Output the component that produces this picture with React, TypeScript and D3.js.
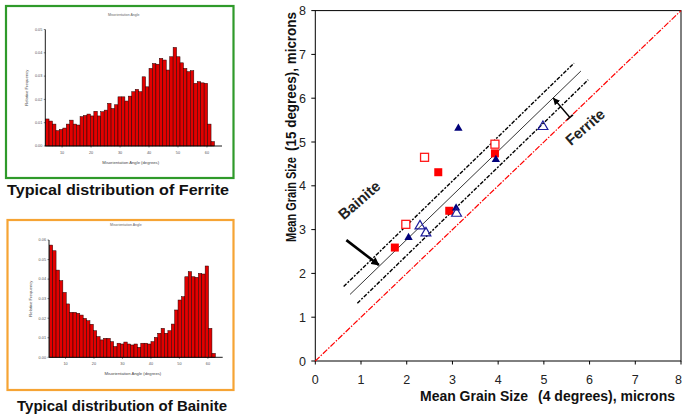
import React from "react";
import * as d3 from "d3";

// histogram bins (degrees)
const binStart = 4.3;
const binWidth = 1.19;
const histXTicks = [10, 20, 30, 40, 50, 60];

const ferriteFreq = [
  0.0116, 0.0107, 0.0094, 0.0066, 0.0071, 0.0077, 0.0094, 0.0111, 0.0094, 0.009,
  0.0126, 0.0131, 0.0137, 0.0129, 0.0149, 0.0129, 0.0147, 0.0154, 0.0183, 0.0161,
  0.0177, 0.0211, 0.0211, 0.0193, 0.0214, 0.0233, 0.0243, 0.0233, 0.0297, 0.0254,
  0.0333, 0.0354, 0.0351, 0.0376, 0.0369, 0.0326, 0.0383, 0.0423, 0.0383, 0.0357,
  0.0333, 0.0319, 0.0323, 0.0269, 0.0276, 0.0271, 0.0269, 0.0094, 0.0019,
];
const ferriteYTicks = [0, 0.01, 0.02, 0.03, 0.04, 0.05];

const bainiteFreq = [
  0.0574, 0.0545, 0.0446, 0.0392, 0.0332, 0.0273, 0.023, 0.023, 0.0225, 0.0216,
  0.0199, 0.0187, 0.0169, 0.0136, 0.0106, 0.0089, 0.0097, 0.0097, 0.008, 0.0055,
  0.0072, 0.0068, 0.0078, 0.0068, 0.0063, 0.0068, 0.0051, 0.0072, 0.0072, 0.0068,
  0.008, 0.0102, 0.0123, 0.0148, 0.0123, 0.0136, 0.017, 0.0242, 0.0293, 0.031,
  0.0412, 0.0438, 0.0412, 0.0409, 0.0429, 0.0426, 0.0467, 0.0148, 0.002,
];
const bainiteYTicks = [0, 0.01, 0.02, 0.03, 0.04, 0.05, 0.06];

// grain size scatter (4 deg, 15 deg), microns
const grainTicks = [0, 1, 2, 3, 4, 5, 6, 7, 8];
const redOpen: [number, number][] = [[1.98, 3.12], [2.39, 4.65], [3.93, 4.95]];
const redFilled: [number, number][] = [[1.74, 2.59], [2.69, 4.31], [2.93, 3.43], [3.93, 4.74]];
const blueFilled: [number, number][] = [[2.04, 2.82], [3.08, 3.49], [3.13, 5.31], [3.95, 4.6]];
const blueOpen: [number, number][] = [[2.29, 3.08], [2.42, 2.92], [3.09, 3.37], [4.98, 5.35]];
const bandUpper: [number, number][] = [[0.62, 1.7], [5.66, 6.8]];
const bandCenter: [number, number][] = [[0.76, 1.52], [5.81, 6.62]];
const bandLower: [number, number][] = [[0.92, 1.32], [5.97, 6.42]];
const identity: [number, number][] = [[0, 0], [8, 8]];

const fontFam = "'Liberation Sans', Arial, sans-serif";

function Histogram({ freq, yTicks, yMax, x0, x1, y0, y1 }) {
  const x = d3.scaleLinear().domain([4.2, 65.2]).range([x0, x1]);
  const y = d3.scaleLinear().domain([0, yMax]).range([y0, y1]);
  const fmt = d3.format(".2f");
  const cx = (x0 + x1) / 2;
  return (
    <g fontFamily={fontFam}>
      <text x={cx - 10} y={y1 - 14} fontSize={3.5} textAnchor="middle" fill="#666">
        Misorientation Angle
      </text>
      {freq.map((f, i) => {
        const a = x(binStart + i * binWidth);
        const b = x(binStart + (i + 1) * binWidth);
        return (
          <rect key={i} x={a} y={y(f)} width={b - a} height={y(0) - y(f)}
            fill="#e30000" stroke="#200000" strokeWidth={0.5} />
        );
      })}
      <line x1={x0} x2={x0} y1={y0} y2={y1} stroke="#000" strokeWidth={0.9} />
      <line x1={x0} x2={x1} y1={y0} y2={y0} stroke="#000" strokeWidth={0.9} />
      {yTicks.map((t) => (
        <g key={t}>
          <line x1={x0 - 1.5} x2={x0} y1={y(t)} y2={y(t)} stroke="#000" strokeWidth={0.5} />
          <text x={x0 - 3} y={y(t) + 1.3} fontSize={3.8} textAnchor="end" fill="#555">{fmt(t)}</text>
        </g>
      ))}
      {histXTicks.map((t) => (
        <g key={t}>
          <line x1={x(t)} x2={x(t)} y1={y0} y2={y0 + 1.5} stroke="#000" strokeWidth={0.5} />
          <text x={x(t)} y={y0 + 8} fontSize={3.8} textAnchor="middle" fill="#555">{t}</text>
        </g>
      ))}
      <text transform={`translate(${x0 - 17},${(y0 + y1) / 2}) rotate(-90)`} fontSize={4.2}
        textAnchor="middle" fill="#444">Relative Frequency</text>
      <text x={cx - 3} y={y0 + 18} fontSize={4.2} textAnchor="middle" fill="#444">
        Misorientation Angle (degrees)
      </text>
    </g>
  );
}

export default function App() {
  const x = d3.scaleLinear().domain([0, 8]).range([315.3, 681]);
  const y = d3.scaleLinear().domain([0, 8]).range([361, 10.6]);
  const line = d3.line<[number, number]>().x((d) => x(d[0])).y((d) => y(d[1]));
  const tri = d3.symbol().type(d3.symbolTriangle);

  // ferrite arrow end points
  const fa = [x(5.21), y(6.0)];
  const fb = [x(5.57), y(5.56)];
  const fdx = fb[0] - fa[0];
  const fdy = fb[1] - fa[1];
  const flen = Math.hypot(fdx, fdy);
  const px = (-fdy / flen) * 4;
  const py = (fdx / flen) * 4;

  return (
    <div style={{ position: "absolute", left: 0, top: 0 }}>
      <svg width={682} height={416} style={{ display: "block", background: "#fff" }}>
        <defs>
          <marker id="headBig" viewBox="0 0 10 10" refX="9" refY="5" markerWidth="3.2" markerHeight="3.2" orient="auto">
            <path d="M0,0 L10,5 L0,10 z" fill="#000" />
          </marker>
          <marker id="headSmall" viewBox="0 0 10 10" refX="9" refY="5" markerWidth="5" markerHeight="5" orient="auto-start-reverse">
            <path d="M0,0 L10,5 L0,10 z" fill="#000" />
          </marker>
        </defs>

        {/* left panels */}
        <rect x={6} y={6} width={227.5} height={172} fill="none" stroke="#2f9a2a" strokeWidth={2.2} />
        <Histogram freq={ferriteFreq} yTicks={ferriteYTicks} yMax={0.05} x0={45.3} x1={222} y0={146} y1={29.5} />
        <text x={118} y={195} fontFamily={fontFam} fontWeight="bold" fontSize={15} textAnchor="middle"
          textLength={222} lengthAdjust="spacingAndGlyphs" fill="#111">Typical distribution of Ferrite</text>

        <rect x={7.5} y={220} width={226} height={170} fill="none" stroke="#f6a434" strokeWidth={2.2} />
        <Histogram freq={bainiteFreq} yTicks={bainiteYTicks} yMax={0.06} x0={49} x1={222.7} y0={357.3} y1={240} />
        <text x={122} y={411} fontFamily={fontFam} fontWeight="bold" fontSize={15} textAnchor="middle"
          textLength={210} lengthAdjust="spacingAndGlyphs" fill="#111">Typical distribution of Bainite</text>

        {/* right scatter */}
        <g fontFamily={fontFam}>
          <rect x={x(0)} y={y(8)} width={x(8) - x(0)} height={y(0) - y(8)} fill="none" stroke="#000" strokeWidth={1} />
          {grainTicks.map((t) => (
            <g key={"x" + t}>
              <line x1={x(t)} x2={x(t)} y1={y(0)} y2={y(0) + 3.5} stroke="#000" />
              <text x={t === 8 ? 682 : x(t)} y={384} fontSize={12.5} textAnchor={t === 8 ? "end" : "middle"} fill="#222">{t}</text>
            </g>
          ))}
          {grainTicks.map((t) => (
            <g key={"y" + t}>
              <line x1={x(0) - 4} x2={x(0)} y1={y(t)} y2={y(t)} stroke="#000" />
              <text x={306} y={y(t) + 4.5} fontSize={12.5} textAnchor="end" fill="#222">{t}</text>
            </g>
          ))}

          <path d={line(identity)!} fill="none" stroke="#ff0000" strokeWidth={1.2} strokeDasharray="6,1.5,1.5,1.5" />
          <path d={line(bandUpper)!} fill="none" stroke="#000" strokeWidth={1.4} strokeDasharray="4,1.5,2,1.5" />
          <path d={line(bandCenter)!} fill="none" stroke="#000" strokeWidth={0.8} />
          <path d={line(bandLower)!} fill="none" stroke="#000" strokeWidth={1.4} strokeDasharray="4,1.5,2,1.5" />

          {redOpen.map((d, i) => (
            <rect key={"ro" + i} x={x(d[0]) - 4} y={y(d[1]) - 4} width={8} height={8} fill="#fff" stroke="#ff1a1a" strokeWidth={1.3} />
          ))}
          {redFilled.map((d, i) => (
            <rect key={"rf" + i} x={x(d[0]) - 4} y={y(d[1]) - 4} width={8} height={8} fill="#ff0000" />
          ))}
          {blueFilled.map((d, i) => (
            <path key={"bf" + i} transform={`translate(${x(d[0])},${y(d[1])})`} d={tri.size(30)()!} fill="#00007a" />
          ))}
          {blueOpen.map((d, i) => (
            <path key={"bo" + i} transform={`translate(${x(d[0])},${y(d[1])})`} d={tri.size(42)()!} fill="none" stroke="#1c1c9a" strokeWidth={1.2} />
          ))}

          {/* annotations */}
          <line x1={x(0.68)} y1={y(2.76)} x2={x(1.39)} y2={y(2.19)} stroke="#000" strokeWidth={2.6} markerEnd="url(#headBig)" />
          <text transform={`translate(${x(0.98)},${y(3.65)}) rotate(-41)`} fontSize={15} fontWeight="bold"
            textAnchor="middle" dominantBaseline="middle" fill="#222">Bainite</text>
          <line x1={fa[0]} y1={fa[1]} x2={fb[0]} y2={fb[1]} stroke="#000" strokeWidth={1.4} markerStart="url(#headSmall)" />
          <line x1={fb[0] - px} y1={fb[1] - py} x2={fb[0] + px} y2={fb[1] + py} stroke="#000" strokeWidth={1.4} />
          <text transform={`translate(${x(5.92)},${y(5.32)}) rotate(-41)`} fontSize={15} fontWeight="bold"
            textAnchor="middle" dominantBaseline="middle" fill="#222">Ferrite</text>

          <text x={420} y={401} fontSize={14} fontWeight="bold" textLength={108} lengthAdjust="spacingAndGlyphs" fill="#111">Mean Grain Size</text>
          <text x={538} y={401} fontSize={14} fontWeight="bold" textLength={137} lengthAdjust="spacingAndGlyphs" fill="#111">(4 degrees), microns</text>
          <text transform="translate(296,242) rotate(-90)" fontSize={14} fontWeight="bold" textLength={85} lengthAdjust="spacingAndGlyphs" fill="#111">Mean Grain Size</text>
          <text transform="translate(296,151) rotate(-90)" fontSize={14} fontWeight="bold" textLength={139} lengthAdjust="spacingAndGlyphs" fill="#111">(15 degrees), microns</text>
        </g>
      </svg>
    </div>
  );
}
